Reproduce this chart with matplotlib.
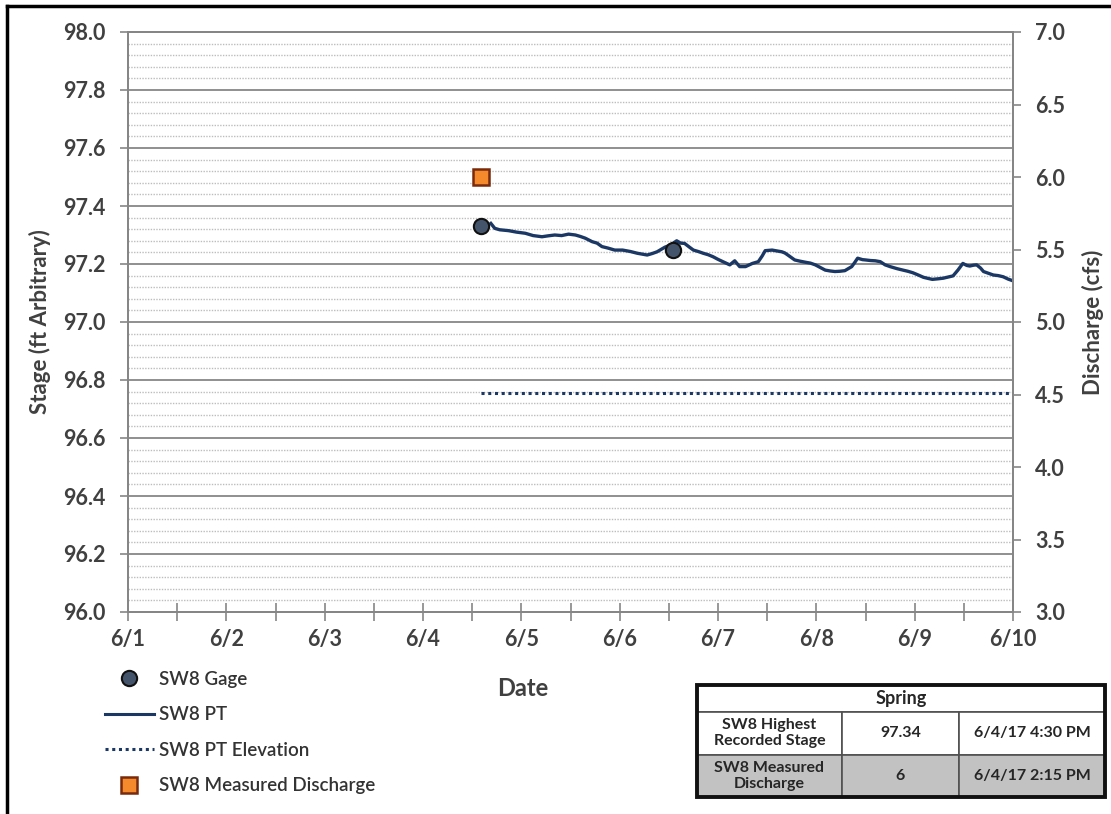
import matplotlib
matplotlib.use('Agg')
import matplotlib.pyplot as plt
from matplotlib.lines import Line2D
from matplotlib.patches import Rectangle
from matplotlib.ticker import MultipleLocator, FormatStrFormatter

plt.rcParams['font.family'] = ['Lato', 'DejaVu Sans']

# x values are days after 6/1 00:00
day_labels = ['6/1', '6/2', '6/3', '6/4', '6/5', '6/6', '6/7', '6/8', '6/9', '6/10']

pt_days = [3.69, 3.73, 3.78, 3.87, 3.95, 4.04, 4.12, 4.21, 4.27, 4.34, 4.41, 4.48,
           4.55, 4.60, 4.65, 4.72, 4.77, 4.82, 4.88, 4.95, 5.03, 5.11, 5.18, 5.23,
           5.28, 5.33, 5.38, 5.46, 5.52, 5.58, 5.62, 5.66, 5.71, 5.75, 5.80, 5.85,
           5.90, 5.95, 6.00, 6.05, 6.12, 6.17, 6.22, 6.28, 6.35, 6.41, 6.45, 6.48,
           6.55, 6.60, 6.65, 6.68, 6.71, 6.78, 6.83, 6.89, 6.94, 6.99, 7.04, 7.09,
           7.14, 7.19, 7.24, 7.29, 7.36, 7.39, 7.42, 7.47, 7.50, 7.55, 7.60, 7.65,
           7.70, 7.75, 7.82, 7.88, 7.93, 7.98, 8.03, 8.09, 8.14, 8.18, 8.24, 8.29,
           8.34, 8.39, 8.44, 8.49, 8.53, 8.56, 8.60, 8.63, 8.67, 8.70, 8.75, 8.80,
           8.85, 8.90, 8.95, 9.00]
pt_stage = [97.340, 97.323, 97.318, 97.315, 97.310, 97.306, 97.298, 97.294, 97.297,
            97.300, 97.298, 97.303, 97.300, 97.295, 97.289, 97.277, 97.272, 97.260,
            97.255, 97.248, 97.248, 97.243, 97.237, 97.234, 97.231, 97.236, 97.242,
            97.258, 97.266, 97.280, 97.272, 97.271, 97.258, 97.248, 97.243, 97.237,
            97.232, 97.225, 97.216, 97.208, 97.197, 97.211, 97.191, 97.191, 97.202,
            97.208, 97.228, 97.246, 97.248, 97.245, 97.242, 97.238, 97.231, 97.214,
            97.210, 97.206, 97.203, 97.197, 97.188, 97.179, 97.176, 97.174, 97.175,
            97.177, 97.191, 97.205, 97.220, 97.215, 97.214, 97.212, 97.211, 97.208,
            97.197, 97.191, 97.184, 97.179, 97.175, 97.170, 97.163, 97.154, 97.150,
            97.147, 97.149, 97.151, 97.155, 97.159, 97.179, 97.202, 97.195, 97.193,
            97.196, 97.197, 97.186, 97.174, 97.168, 97.162, 97.160, 97.156, 97.148,
            97.142]

gage_days = [3.59, 5.54]
gage_stage = [97.33, 97.25]

elev_days = [3.59, 9.0]
elev_stage = [96.755, 96.755]

q_days = [3.594]
q_cfs = [6.0]

table_header = 'Spring'
table_rows = [['SW8 Highest\nRecorded Stage', '97.34', '6/4/17 4:30 PM'],
              ['SW8 Measured\nDischarge', '6', '6/4/17 2:15 PM']]

navy = '#1b3764'
axis_grey = '#868686'
text_grey = '#404040'

W, H = 1111, 814
fig = plt.figure(figsize=(W / 100, H / 100), dpi=100)
ax = fig.add_axes([128 / W, 1 - 612 / H, (1013 - 128) / W, (612 - 32) / H])

ax.set_xlim(0, 9)
ax.set_ylim(96, 98)
ax.xaxis.set_major_locator(MultipleLocator(1))
ax.xaxis.set_minor_locator(MultipleLocator(0.5))
ax.set_xticks(range(len(day_labels)))
ax.set_xticklabels(day_labels)
ax.yaxis.set_major_locator(MultipleLocator(0.2))
ax.yaxis.set_minor_locator(MultipleLocator(0.04))
ax.yaxis.set_major_formatter(FormatStrFormatter('%.1f'))

ax.grid(which='major', axis='y', color='#8f8f8f', lw=1.4)
ax.grid(which='minor', axis='y', color='#bdbdbd', lw=1, ls=(0, (1, 1)))
ax.set_axisbelow(True)

for s in ax.spines.values():
    s.set_color(axis_grey)
    s.set_linewidth(1.4)

ax.tick_params(axis='x', which='both', direction='inout', length=13, width=1.2,
               color=axis_grey, labelsize=15.5, labelcolor=text_grey, pad=6)
ax.tick_params(axis='y', which='major', direction='out', length=6, width=1.2,
               color=axis_grey, labelsize=15.5, labelcolor=text_grey, pad=10)
ax.tick_params(axis='y', which='minor', length=0)
for lab in ax.get_xticklabels() + ax.get_yticklabels():
    lab.set_fontweight('bold')

ax.set_ylabel('Stage (ft Arbitrary)', fontsize=16, fontweight='bold',
              color=text_grey, labelpad=9)

ax.plot(pt_days, pt_stage, color=navy, lw=2.4, zorder=3)
ax.plot(elev_days, elev_stage, color=navy, lw=2.2, ls=(0, (1, 1.2)), zorder=3)
ax.plot(gage_days, gage_stage, ls='none', marker='o', ms=11, mfc='#44546a',
        mec='#111111', mew=1.5, zorder=4)

ax2 = ax.twinx()
ax2.set_ylim(3, 7)
ax2.yaxis.set_major_locator(MultipleLocator(0.5))
ax2.yaxis.set_major_formatter(FormatStrFormatter('%.1f'))
for s in ax2.spines.values():
    s.set_color(axis_grey)
    s.set_linewidth(1.4)
ax2.tick_params(axis='y', direction='out', length=6, width=1.2, color=axis_grey,
                labelsize=15.5, labelcolor=text_grey, pad=10)
for lab in ax2.get_yticklabels():
    lab.set_fontweight('bold')
ax2.set_ylabel('Discharge (cfs)', fontsize=16, fontweight='bold',
               color=text_grey, labelpad=12)
ax2.plot(q_days, q_cfs, ls='none', marker='s', ms=11, mfc='#f58a2c',
         mec='#7a2a0c', mew=1.8, zorder=4)

fig.text(523 / W, 1 - 689 / H, 'Date', ha='center', va='center', fontsize=17,
         fontweight='bold', color=text_grey)

handles = [
    Line2D([], [], ls='none', marker='o', ms=11, mfc='#44546a', mec='#111111', mew=1.5),
    Line2D([], [], color=navy, lw=2.2),
    Line2D([], [], color=navy, lw=2.2, ls=(0, (1, 1.2))),
    Line2D([], [], ls='none', marker='s', ms=11, mfc='#f58a2c', mec='#7a2a0c', mew=1.8),
]
labels = ['SW8 Gage', 'SW8 PT', 'SW8 PT Elevation', 'SW8 Measured Discharge']
leg = fig.legend(handles, labels, loc='upper left',
                 bbox_to_anchor=(105 / W, 1 - 671 / H), frameon=False,
                 prop={'size': 13.5, 'weight': 'semibold'}, handlelength=2.6,
                 handletextpad=0.3, labelspacing=0.98, borderpad=0,
                 borderaxespad=0)
for t in leg.get_texts():
    t.set_color('#333333')

# summary table
tax = fig.add_axes([697 / W, 1 - 797 / H, (1105 - 697) / W, (797 - 685) / H])
tax.axis('off')
hdr = tax.table(cellText=[[table_header]], cellLoc='center',
                bbox=[0, 85 / 112, 1, 27 / 112])
body = tax.table(cellText=table_rows, cellLoc='center', colWidths=[145, 117, 146],
                 bbox=[0, 0, 1, 85 / 112])
for tbl, size in ((hdr, 13), (body, 11.5)):
    tbl.auto_set_font_size(False)
    for (r, c), cell in tbl.get_celld().items():
        cell.set_edgecolor('#505050')
        cell.set_linewidth(1.2)
        cell.get_text().set_fontsize(size)
        cell.get_text().set_fontweight('bold')
        cell.get_text().set_color('#262626')
        cell.get_text().set_linespacing(1.2)
        if tbl is body and r == 1:
            cell.set_facecolor('#c2c2c2')
tax.add_patch(Rectangle((0, 0), 1, 1, transform=tax.transAxes, fill=False,
                        ec='#111111', lw=2.8, clip_on=False, zorder=5))

# outer frame on the left and top edges
fig.add_artist(Line2D([7 / W, 7 / W], [0, 1 - 6 / H], transform=fig.transFigure,
                      color='black', lw=2.5))
fig.add_artist(Line2D([7 / W, 1], [1 - 6 / H, 1 - 6 / H], transform=fig.transFigure,
                      color='black', lw=2.5))

fig.savefig('out.png', dpi=100)
